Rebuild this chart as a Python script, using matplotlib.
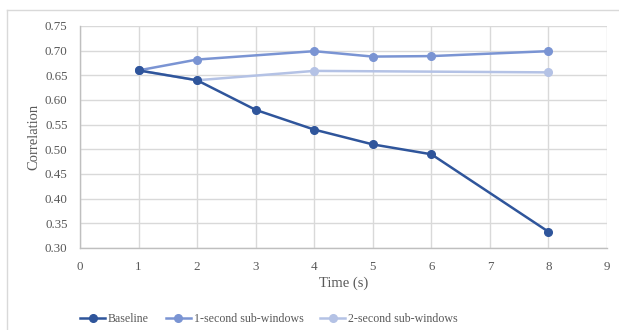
import matplotlib.pyplot as plt
from matplotlib.lines import Line2D

plt.rcParams['font.family'] = ['Liberation Serif', 'DejaVu Serif']

# data
x_base = [1, 2, 3, 4, 5, 6, 8]
baseline = [0.66, 0.64, 0.58, 0.54, 0.51, 0.49, 0.333]
x_one = [1, 2, 4, 5, 6, 8]
one_sec = [0.66, 0.682, 0.699, 0.688, 0.689, 0.699]
x_two = [1, 2, 4, 8]
two_sec = [0.66, 0.64, 0.659, 0.656]
yticks = [0.30, 0.35, 0.40, 0.45, 0.50, 0.55, 0.60, 0.65, 0.70, 0.75]
xticks = list(range(0, 10))

W, H = 619, 330
fig = plt.figure(figsize=(W / 100, H / 100), dpi=100)
ax = fig.add_axes([80 / W, (H - 248) / H, 527 / W, 222 / H])

gray_txt = '#595959'
ax.plot(x_two, two_sec, color='#B4C2E5', lw=1.8, marker='o', ms=5.5, label='2-second sub-windows', zorder=3)
ax.plot(x_one, one_sec, color='#7A94D3', lw=1.8, marker='o', ms=5.5, label='1-second sub-windows', zorder=4)
ax.plot(x_base, baseline, color='#2F559B', lw=1.8, marker='o', ms=5.5, label='Baseline', zorder=5)

ax.set_xlim(0, 9)
ax.set_ylim(0.30, 0.75)
ax.set_xticks(xticks)
ax.set_yticks(yticks)
ax.set_yticklabels([f'{v:.2f}' for v in yticks])
ax.tick_params(length=0, colors=gray_txt, labelsize=9.4, pad=9)
ax.grid(True, color='#D9D9D9', lw=1)
ax.set_axisbelow(True)
for s in ['top', 'right']:
    ax.spines[s].set_visible(False)
for s in ['left', 'bottom']:
    ax.spines[s].set_color('#BFBFBF')
    ax.spines[s].set_linewidth(1)

ax.set_xlabel('Time (s)', color=gray_txt, fontsize=10.5, labelpad=3)
ax.set_ylabel('Correlation', color=gray_txt, fontsize=10.5, labelpad=3)

handles, labels = ax.get_legend_handles_labels()
order = [2, 1, 0]
fig.legend([handles[i] for i in order], [labels[i] for i in order],
           loc='center', bbox_to_anchor=(269 / W, 1 - 319 / H), ncol=3,
           frameon=False, fontsize=8.6, handlelength=2.1, columnspacing=1.4,
           handletextpad=0.25, labelcolor=gray_txt)

# chart frame (only left and top edges visible)
fig.add_artist(Line2D([6.5 / W, 6.5 / W], [0, 1 - 10 / H], color='#D9D9D9', lw=1))
fig.add_artist(Line2D([6.5 / W, 1], [1 - 10 / H, 1 - 10 / H], color='#D9D9D9', lw=1))

fig.savefig('out.png', dpi=100)
